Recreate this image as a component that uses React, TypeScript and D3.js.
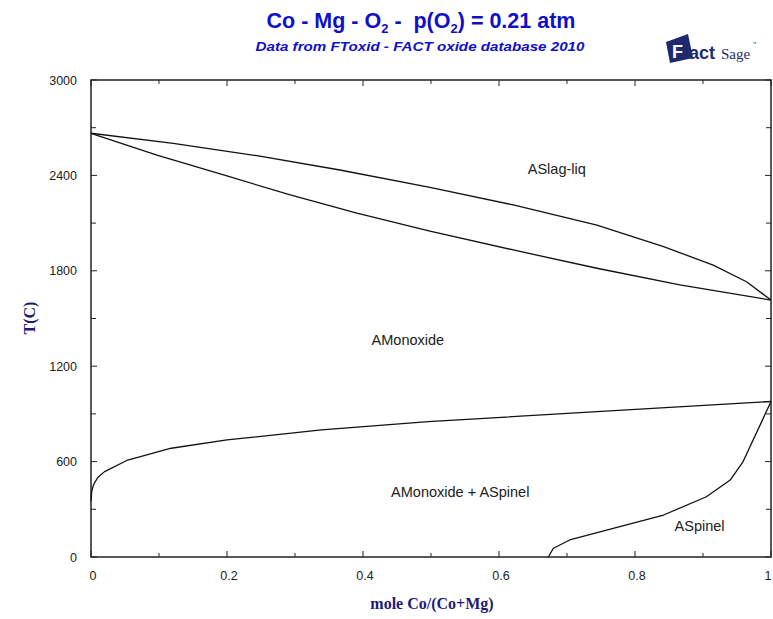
import React from "react";
import * as d3 from "d3";

const liquidus: [number, number][] = [
  [0, 2665], [0.121, 2602], [0.244, 2524], [0.366, 2434], [0.4985, 2325],
  [0.621, 2214], [0.744, 2088], [0.842, 1952], [0.915, 1836], [0.964, 1731], [1, 1616],
];
const solidus: [number, number][] = [
  [0, 2665], [0.097, 2528], [0.195, 2403], [0.293, 2277], [0.391, 2162],
  [0.4985, 2050], [0.621, 1931], [0.744, 1816], [0.866, 1711], [1, 1616],
];
const solvus: [number, number][] = [
  [0, 352], [0.001, 410], [0.003, 445], [0.0054, 468], [0.01, 500], [0.02, 537],
  [0.054, 610], [0.118, 684], [0.2, 736], [0.339, 799], [0.496, 851], [0.744, 914], [1, 978],
];
const spinel: [number, number][] = [
  [0.6725, 0], [0.68, 55], [0.704, 107], [0.768, 180], [0.842, 264],
  [0.905, 379], [0.94, 484], [0.959, 600], [1, 978],
];
const yTickLabels = [0, 600, 1200, 1800, 2400, 3000];
const yTicksAll = d3.range(0, 3001, 300);
const xTickLabels = [0, 0.2, 0.4, 0.6, 0.8, 1];
const xTicksAll = d3.range(0, 11).map((i) => i / 10);
const regionLabels: { text: string; x: number; t: number }[] = [
  { text: "ASlag-liq", x: 0.685, t: 2410 },
  { text: "AMonoxide", x: 0.466, t: 1335 },
  { text: "AMonoxide + ASpinel", x: 0.543, t: 380 },
  { text: "ASpinel", x: 0.895, t: 165 },
];

const W = 773, H = 619;
const L = 91, R = 771, T = 80, B = 557;

export default function App() {
  const x = d3.scaleLinear().domain([0, 1]).range([L, R]);
  const y = d3.scaleLinear().domain([0, 3000]).range([B, T]);
  const line = d3.line<[number, number]>().x((d) => x(d[0])).y((d) => y(d[1]));
  const blue = "#1010c8";
  const navy = "#1c1c78";
  return (
    <svg width={W} height={H} style={{ position: "absolute", left: 0, top: 0, background: "#fff" }}
      fontFamily="Arial, 'Liberation Sans', sans-serif">
      <rect x={0} y={0} width={W} height={H} fill="#fff" />
      {/* Title */}
      <text x={421} y={28} textAnchor="middle" fontSize={21.5} fontWeight="bold" fill={blue} xmlSpace="preserve">
        Co - Mg - O<tspan fontSize={13} dy={5}>2</tspan><tspan dy={-5}>{" -  p(O"}</tspan>
        <tspan fontSize={13} dy={5}>2</tspan><tspan dy={-5}>) = 0.21 atm</tspan>
      </text>
      <text x={420} y={51} textAnchor="middle" fontSize={13} fontWeight="bold" fontStyle="italic" fill={blue}
        textLength={329} lengthAdjust="spacingAndGlyphs">
        Data from FToxid - FACT oxide database 2010
      </text>
      {/* Logo */}
      <g>
        <polygon points="666,42 688,34 693,58 670,63" fill="#1d2a6e" />
        <text x={672} y={58} fontSize={18} fontWeight="bold" fill="#fff">F</text>
        <text x={689} y={59} fontSize={18} fontWeight="bold" fill="#1d2a6e">act</text>
        <text x={721} y={59} fontSize={15} fontFamily="'Liberation Serif', serif" fill="#1d2a6e">Sage</text>
        <text x={753} y={48} fontSize={8} fontFamily="'Liberation Serif', serif" fill="#1d2a6e">"</text>
      </g>
      {/* Frame */}
      <rect x={L} y={T} width={R - L} height={B - T} fill="none" stroke="#222" strokeWidth={1.5} />
      {/* Y ticks */}
      {yTicksAll.map((t) => {
        const len = t % 600 === 0 ? 6 : 5;
        return (
          <g key={"y" + t}>
            <line x1={L} x2={L + len} y1={y(t)} y2={y(t)} stroke="#222" strokeWidth={1} />
            <line x1={R} x2={R - len} y1={y(t)} y2={y(t)} stroke="#222" strokeWidth={1} />
          </g>
        );
      })}
      {yTickLabels.map((t) => (
        <text key={"yl" + t} x={77} y={y(t) + 4.5} textAnchor="end" fontSize={12.5} fill="#222">{t}</text>
      ))}
      {/* X ticks */}
      {xTicksAll.map((t, i) => {
        const len = i % 2 === 0 ? 6 : 4;
        return (
          <g key={"x" + i}>
            <line x1={x(t)} x2={x(t)} y1={B} y2={B - len} stroke="#222" strokeWidth={1} />
            <line x1={x(t)} x2={x(t)} y1={T} y2={T + len} stroke="#222" strokeWidth={1} />
          </g>
        );
      })}
      {xTickLabels.map((t) => (
        <text key={"xl" + t} x={t === 1 ? x(t) - 3 : x(t) + 2} y={580} textAnchor="middle" fontSize={12.5} fill="#222">{t}</text>
      ))}
      {/* Axis titles */}
      <text x={432} y={609} textAnchor="middle" fontSize={16} fontWeight="bold"
        fontFamily="'Liberation Serif', 'DejaVu Serif', serif" fill={navy}>mole Co/(Co+Mg)</text>
      <text transform={`translate(35,318) rotate(-90)`} textAnchor="middle" fontSize={16} fontWeight="bold"
        fontFamily="'Liberation Serif', 'DejaVu Serif', serif" fill={navy}>T(C)</text>
      {/* Curves */}
      {[liquidus, solidus, solvus, spinel].map((d, i) => (
        <path key={"c" + i} d={line(d) || ""} fill="none" stroke="#111" strokeWidth={1.3} strokeLinejoin="round" />
      ))}
      {/* Region labels */}
      {regionLabels.map((r) => (
        <text key={r.text} x={x(r.x)} y={y(r.t)} textAnchor="middle" fontSize={14.5} fill="#222">{r.text}</text>
      ))}
    </svg>
  );
}
